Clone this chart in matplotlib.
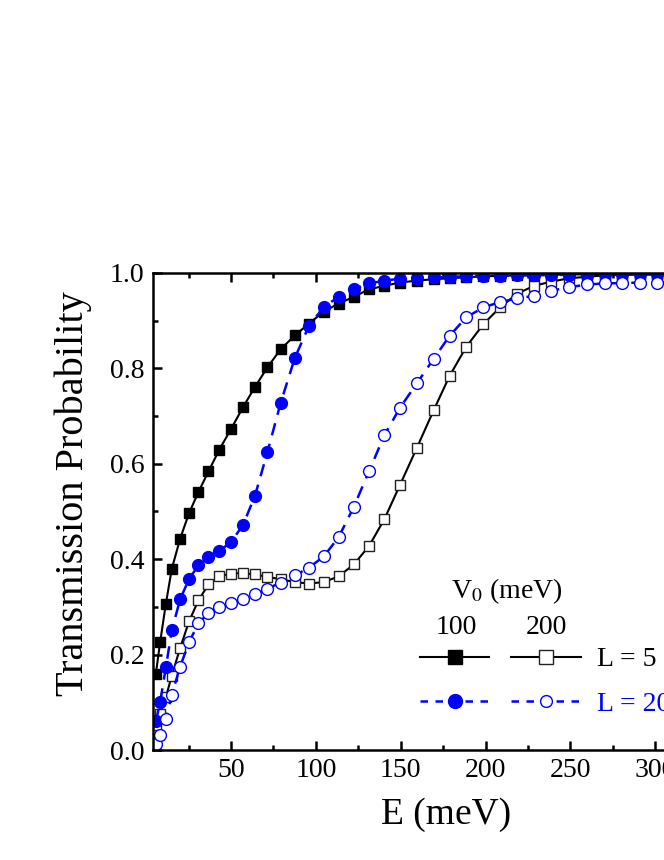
import matplotlib

matplotlib.use("Agg")
import matplotlib.pyplot as plt
from matplotlib.lines import Line2D
from matplotlib.ticker import MultipleLocator

plt.rcParams["font.family"] = ["Liberation Serif", "DejaVu Serif"]
plt.rcParams["mathtext.fontset"] = "stix"

# Energy grid (meV), shared by all four curves
energy = [5.7, 8.2, 11.6, 15.1, 20.0, 25.3, 30.8, 36.7, 43.0, 50.0,
          57.1, 64.1, 71.4, 79.2, 87.6, 95.9, 104.7, 113.4, 122.4, 131.4,
          140.4, 149.5, 159.6, 169.4, 178.8, 188.6, 198.8, 208.6, 218.8, 228.6,
          238.8, 249.4, 259.6, 270.2, 280.4, 291.0, 301.2, 311.6]

# L = 5 nm, V0 = 100 meV (filled squares)
t_l5_v100 = [0.160, 0.226, 0.307, 0.380, 0.443, 0.497, 0.541, 0.584, 0.629, 0.673,
             0.719, 0.761, 0.802, 0.840, 0.869, 0.894, 0.919, 0.936, 0.950, 0.966,
             0.973, 0.980, 0.984, 0.987, 0.989, 0.991, 0.993, 0.994, 0.995, 0.996,
             0.996, 0.997, 0.997, 0.998, 0.998, 0.998, 0.998, 0.999]

# L = 5 nm, V0 = 200 meV (open squares)
t_l5_v200 = [0.053, 0.075, 0.111, 0.156, 0.214, 0.270, 0.314, 0.347, 0.364, 0.370,
             0.371, 0.368, 0.363, 0.358, 0.352, 0.349, 0.352, 0.364, 0.389, 0.428,
             0.484, 0.555, 0.634, 0.712, 0.784, 0.845, 0.893, 0.928, 0.957, 0.973,
             0.982, 0.989, 0.992, 0.995, 0.996, 0.997, 0.997, 0.998]

# L = 20 nm, V0 = 100 meV (filled circles)
t_l20_v100 = [0.060, 0.100, 0.174, 0.251, 0.316, 0.359, 0.387, 0.405, 0.417, 0.436,
              0.472, 0.533, 0.624, 0.727, 0.822, 0.889, 0.929, 0.950, 0.966, 0.978,
              0.984, 0.988, 0.990, 0.991, 0.992, 0.993, 0.994, 0.994, 0.995, 0.995,
              0.996, 0.996, 0.996, 0.997, 0.997, 0.997, 0.997, 0.998]

# L = 20 nm, V0 = 200 meV (open circles)
t_l20_v200 = [0.012, 0.031, 0.064, 0.116, 0.175, 0.226, 0.266, 0.287, 0.299, 0.308,
              0.316, 0.326, 0.338, 0.351, 0.366, 0.382, 0.406, 0.446, 0.510, 0.585,
              0.660, 0.717, 0.769, 0.820, 0.868, 0.907, 0.928, 0.939, 0.947, 0.952,
              0.963, 0.970, 0.976, 0.978, 0.979, 0.980, 0.980, 0.981]

blue = "#0000ff"

fig = plt.figure(figsize=(6.64, 8.6), dpi=100)
ax = fig.add_axes([153 / 664, 110 / 860, 587 / 664, 477 / 860])

dash = (0, (5, 3.5))
ax.plot(energy, t_l5_v100, "-", color="black", lw=1.5,
        marker="s", ms=7.5, mfc="black", mec="black")
ax.plot(energy, t_l5_v200, "-", color="black", lw=1.5,
        marker="s", ms=7.5, mfc="white", mec="#222222", mew=1.0)
ax.plot(energy, t_l20_v100, color=blue, lw=1.8, linestyle=dash,
        marker="o", ms=8.5, mfc=blue, mec=blue)
ax.plot(energy, t_l20_v200, color=blue, lw=1.8, linestyle=dash,
        marker="o", ms=8.5, mfc="white", mec=blue, mew=1.0)

ax.set_xlim(4, 350)
ax.set_ylim(0, 1.0)
ax.xaxis.set_major_locator(MultipleLocator(50))
ax.xaxis.set_minor_locator(MultipleLocator(25))
ax.yaxis.set_major_locator(MultipleLocator(0.2))
ax.yaxis.set_minor_locator(MultipleLocator(0.1))
ax.yaxis.set_major_formatter(plt.FormatStrFormatter("%.1f"))
ax.tick_params(which="both", direction="in", top=True, right=True, width=1.8)
ax.tick_params(which="major", length=6.5, labelsize=20, pad=6)
ax.tick_params(which="minor", length=3.6)
for sp in ax.spines.values():
    sp.set_linewidth(1.8)

ax.set_xlabel("E (meV)", fontsize=27)
ax.xaxis.set_label_coords(0.499, -0.1)
ax.set_ylabel("Transmission Probability", fontsize=29)
ax.yaxis.set_label_coords(-0.104, 0.537)

# legend: two V0 columns, one row per barrier width
handles = [
    Line2D([], [], color="black", lw=1.5, marker="s", ms=10, mfc="black", mec="black"),
    Line2D([], [], color=blue, lw=1.8, linestyle=(0, (3, 3)), marker="o", ms=10,
           mfc=blue, mec=blue),
    Line2D([], [], color="black", lw=1.5, marker="s", ms=9.5, mfc="white", mec="#222222"),
    Line2D([], [], color=blue, lw=1.8, linestyle=(0, (3, 3)), marker="o", ms=8.5,
           mfc="white", mec=blue),
]
labels = ["", "", "L = 5 nm", "L = 20 nm"]
ax.legend(handles, labels, ncol=2, frameon=False, fontsize=20,
          loc="center left", bbox_to_anchor=(420 / 664, (860 - 682) / 860),
          bbox_transform=fig.transFigure, borderpad=0, borderaxespad=0,
          handlelength=2.5, handletextpad=0.6, columnspacing=0.18,
          labelspacing=0.7, numpoints=1,
          labelcolor=["black", "black", "black", blue])

fig.text(507 / 664, (860 - 598) / 860, "V$_0$ (meV)", fontsize=20,
         ha="center", va="baseline")
fig.text(456 / 664, (860 - 634) / 860, "100", fontsize=20, ha="center", va="baseline")
fig.text(546 / 664, (860 - 634) / 860, "200", fontsize=20, ha="center", va="baseline")

fig.savefig("out.png", dpi=100)
